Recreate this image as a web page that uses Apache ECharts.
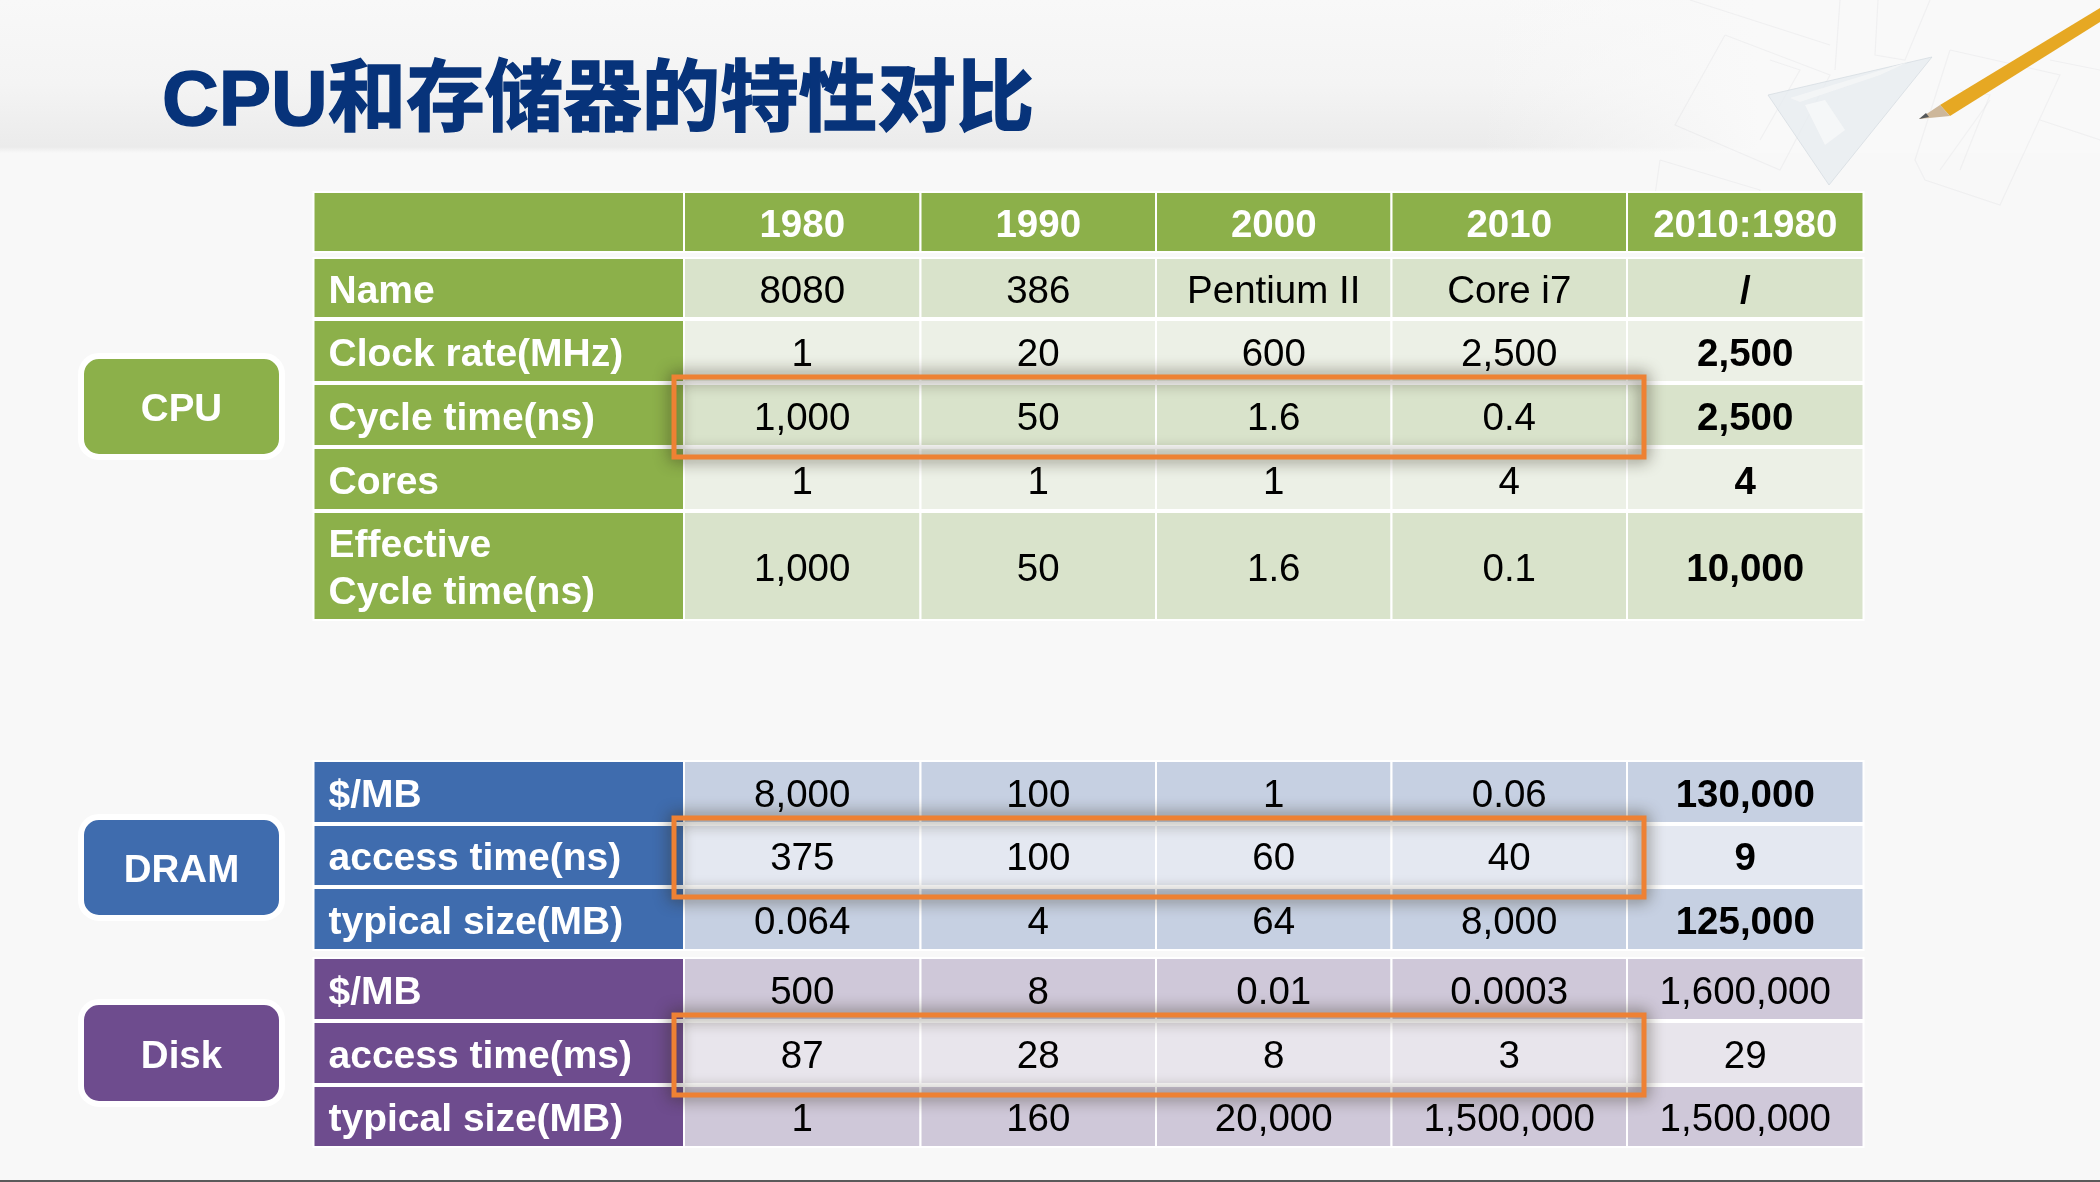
<!DOCTYPE html>
<html>
<head>
    <meta charset="utf-8">
    <script src="https://cdn.jsdelivr.net/npm/echarts@6/dist/echarts.min.js"></script>
    <style>html,body{margin:0;padding:0;background:#f8f8f8}</style>
</head>
<body>
<div id="main" style="width:2100px;height:1182px;"></div>

<script type="text/javascript">
    // table text
    var titleText = 'CPU和存储器的特性对比';
    var years = ['', '1980', '1990', '2000', '2010', '2010:1980'];

    var cpuLabels = ['', 'Name', 'Clock rate(MHz)', 'Cycle time(ns)', 'Cores', 'Effective\nCycle time(ns)'];
    var cpuName = ['8080', '386', 'Pentium II', 'Core i7', '/'];
    var cpuClock = ['1', '20', '600', '2,500', '2,500'];
    var cpuCycle = ['1,000', '50', '1.6', '0.4', '2,500'];
    var cpuCores = ['1', '1', '1', '4', '4'];
    var cpuEffective = ['1,000', '50', '1.6', '0.1', '10,000'];

    var dramLabels = ['$/MB', 'access time(ns)', 'typical size(MB)'];
    var dramPrice = ['8,000', '100', '1', '0.06', '130,000'];
    var dramAccess = ['375', '100', '60', '40', '9'];
    var dramSize = ['0.064', '4', '64', '8,000', '125,000'];

    var diskLabels = ['$/MB', 'access time(ms)', 'typical size(MB)'];
    var diskPrice = ['500', '8', '0.01', '0.0003', '1,600,000'];
    var diskAccess = ['87', '28', '8', '3', '29'];
    var diskSize = ['1', '160', '20,000', '1,500,000', '1,500,000'];

    // layout of the table, in px along the hidden axes
    var colWidths = [370.5, 236.5, 235.5, 235.5, 235.5, 236.5];
    var cpuRowHeights = [60, 60, 62, 62, 62, 108];
    var cpuRowGaps = [6, 2, 2, 2, 2, 0];
    var memRowHeights = [62, 61, 62, 62, 62, 61];
    var memRowGaps = [2, 2, 8, 2, 2, 0];

    var FONT = '"Liberation Sans", "Noto Sans CJK SC", sans-serif';
    var GREEN = '#8cb04a', BLUE = '#3f6cae', PURPLE = '#6e4c8e';

    function edges(sizes, gaps) {
        var out = [0], pos = 0;
        sizes.forEach(function (s, i) {
            pos += s + (gaps ? gaps[i] : 0);
            out.push(pos);
        });
        return out;
    }
    var colEdges = edges(colWidths);
    var cpuEdges = edges(cpuRowHeights, cpuRowGaps);
    var memEdges = edges(memRowHeights, memRowGaps);

    // rows: {label, cells, head, fill, boldLast}
    var cpuRows = [
        {label: cpuLabels[0], cells: years.slice(1), head: GREEN, fill: GREEN, color: '#fff', bold: true},
        {label: cpuLabels[1], cells: cpuName, head: GREEN, fill: '#d9e3cb', boldLast: true},
        {label: cpuLabels[2], cells: cpuClock, head: GREEN, fill: '#ecf0e6', boldLast: true},
        {label: cpuLabels[3], cells: cpuCycle, head: GREEN, fill: '#d9e3cb', boldLast: true},
        {label: cpuLabels[4], cells: cpuCores, head: GREEN, fill: '#ecf0e6', boldLast: true},
        {label: cpuLabels[5], cells: cpuEffective, head: GREEN, fill: '#d9e3cb', boldLast: true}
    ];
    var memRows = [
        {label: dramLabels[0], cells: dramPrice, head: BLUE, fill: '#c6d0e2', boldLast: true},
        {label: dramLabels[1], cells: dramAccess, head: BLUE, fill: '#e4e8f1', boldLast: true},
        {label: dramLabels[2], cells: dramSize, head: BLUE, fill: '#c6d0e2', boldLast: true},
        {label: diskLabels[0], cells: diskPrice, head: PURPLE, fill: '#cfc8d9'},
        {label: diskLabels[1], cells: diskAccess, head: PURPLE, fill: '#e8e5ec'},
        {label: diskLabels[2], cells: diskSize, head: PURPLE, fill: '#cfc8d9'}
    ];

    function cellData(rows) {
        var out = [];
        rows.forEach(function (r, ri) {
            for (var c = 0; c < 6; c++) out.push([c, ri]);
        });
        return out;
    }

    function cellRenderer(rows, rowEdges, rowHeights) {
        return function (params, api) {
            var c = api.value(0), ri = api.value(1), row = rows[ri];
            var p0 = api.coord([colEdges[c], rowEdges[ri]]);
            var p1 = api.coord([colEdges[c + 1], rowEdges[ri] + rowHeights[ri]]);
            var w = p1[0] - p0[0], h = p1[1] - p0[1];
            var isLabel = c === 0;
            var text = isLabel ? row.label : row.cells[c - 1];
            var bold = isLabel || row.bold || (row.boldLast && c === 5);
            return {
                type: 'group',
                children: [{
                    type: 'rect',
                    shape: {x: p0[0], y: p0[1], width: w, height: h},
                    style: {fill: isLabel ? row.head : row.fill, stroke: '#fff', lineWidth: 2}
                }, {
                    type: 'text',
                    style: {
                        text: text,
                        x: isLabel ? p0[0] + 15 : p0[0] + w / 2,
                        y: p0[1] + h / 2 + 4,
                        fill: (isLabel || row.color) ? '#fff' : '#000',
                        font: (bold ? '700 ' : '400 ') + (isLabel ? '39px ' : '38.5px ') + FONT,
                        textAlign: isLabel ? 'left' : 'center',
                        textVerticalAlign: 'middle',
                        lineHeight: 47
                    }
                }]
            };
        };
    }

    function boxRenderer(rowEdges, rowHeights) {
        return function (params, api) {
            var ri = api.value(0);
            var p0 = api.coord([colEdges[1], rowEdges[ri]]);
            var p1 = api.coord([colEdges[5], rowEdges[ri] + rowHeights[ri]]);
            return {
                type: 'rect',
                shape: {x: p0[0] - 10, y: p0[1] - 7, width: p1[0] - p0[0] + 27, height: p1[1] - p0[1] + 18},
                style: {
                    fill: 'none', stroke: '#ee8133', lineWidth: 5,
                    shadowBlur: 16, shadowColor: 'rgba(50,42,25,0.95)'
                }
            };
        };
    }

    function badge(x, y, w, h, color, label) {
        return {
            type: 'group', z: 3,
            children: [{
                type: 'rect',
                shape: {x: x - 3, y: y - 3, width: w + 6, height: h + 6, r: 18},
                style: {fill: color, stroke: '#fff', lineWidth: 6}
            }, {
                type: 'text',
                style: {
                    x: x + w / 2, y: y + h / 2 + 4, text: label, fill: '#fff',
                    font: '700 38.5px ' + FONT, textAlign: 'center', textVerticalAlign: 'middle'
                }
            }]
        };
    }

    function faint(points, o) {
        return {
            type: 'polyline', z: 1, shape: {points: points},
            style: {fill: 'none', stroke: '#9aa0a4', lineWidth: 1.2, opacity: o || 0.09}
        };
    }

    var backdrop = [
        // header band
        {
            type: 'rect', z: 0, shape: {x: 0, y: 0, width: 2100, height: 153},
            style: {
                fill: new echarts.graphic.LinearGradient(0, 0, 0, 1, [
                    {offset: 0, color: '#f8f8f8'}, {offset: 0.55, color: '#f4f4f4'},
                    {offset: 0.96, color: '#ebebeb'}, {offset: 1, color: '#f8f8f8'}
                ])
            }
        },
        {
            type: 'rect', z: 0, shape: {x: 1480, y: 0, width: 620, height: 153},
            style: {
                fill: new echarts.graphic.LinearGradient(0, 0, 1, 0, [
                    {offset: 0, color: 'rgba(249,249,249,0)'}, {offset: 0.45, color: 'rgba(249,249,249,1)'},
                    {offset: 1, color: 'rgba(249,249,249,1)'}
                ])
            }
        },
        // blueprint sheets
        faint([[1725, 35], [1830, 75], [1780, 170], [1675, 125], [1725, 35]]),
        faint([[1770, 60], [1800, 70], [1760, 140]]),
        faint([[1690, 0], [1830, 45]]),
        faint([[1840, 0], [1835, 70]]),
        faint([[1878, 0], [1875, 55], [1905, 60], [1930, 0]]),
        faint([[1950, 50], [2060, 75], [2000, 205], [1925, 180], [1915, 160], [1950, 50]]),
        faint([[1960, 90], [1990, 95], [1960, 170]]),
        faint([[1990, 100], [1940, 170]]),
        faint([[2050, 60], [2100, 70]]),
        faint([[2040, 120], [2100, 140]]),
        faint([[1660, 160], [1760, 190], [1740, 225], [1655, 195], [1660, 160]]),
        // set square
        {
            type: 'polygon', z: 1,
            shape: {points: [[1768, 95], [1932, 57], [1829, 185]]},
            style: {fill: '#e6ebef', stroke: '#d3dae0', lineWidth: 1, opacity: 0.7}
        },
        {
            type: 'polygon', z: 1,
            shape: {points: [[1805, 105], [1825, 145], [1845, 130], [1825, 100]]},
            style: {fill: '#f6f7f8', opacity: 0.9}
        },
        {
            type: 'polygon', z: 1,
            shape: {points: [[1790, 98], [1908, 62], [1880, 75], [1800, 102]]},
            style: {fill: '#f4f5f6', opacity: 0.9}
        },
        // pencil
        {
            type: 'polygon', z: 1,
            shape: {points: [[1940, 105], [2100, 8], [2100, 22], [1950, 116]]},
            style: {fill: '#e6a823'}
        },
        {
            type: 'polygon', z: 1,
            shape: {points: [[1940, 105], [1950, 116], [1919, 119]]},
            style: {fill: '#cdb79a'}
        },
        {
            type: 'polygon', z: 1,
            shape: {points: [[1926, 113], [1929, 117], [1919, 119]]},
            style: {fill: '#55585a'}
        },
        // bottom rule
        {type: 'rect', z: 1, shape: {x: 0, y: 1180, width: 2100, height: 2}, style: {fill: '#5a5a5a'}},
        // side labels
        badge(84, 359, 195, 95, GREEN, 'CPU'),
        badge(84, 820, 195, 95, BLUE, 'DRAM'),
        badge(84, 1005, 195, 96, PURPLE, 'Disk')
    ];

    var myChart = echarts.init(document.getElementById('main'));
    var option = {
        animation: false,
        backgroundColor: '#f8f8f8',
        title: {
            text: titleText, left: 157, top: 52,
            textStyle: {
                color: '#07337a', fontSize: 78.5, fontWeight: 700,
                fontFamily: FONT, lineHeight: 92,
                textBorderColor: '#07337a', textBorderWidth: 1.5
            }
        },
        graphic: {elements: backdrop},
        grid: [
            {left: 313.5, width: 1550, top: 192, height: 428},
            {left: 313.5, width: 1550, top: 761, height: 386}
        ],
        xAxis: [
            {type: 'value', gridIndex: 0, min: 0, max: 1550, show: false},
            {type: 'value', gridIndex: 1, min: 0, max: 1550, show: false}
        ],
        yAxis: [
            {type: 'value', gridIndex: 0, min: 0, max: 428, inverse: true, show: false},
            {type: 'value', gridIndex: 1, min: 0, max: 386, inverse: true, show: false}
        ],
        series: [
            {
                type: 'custom', xAxisIndex: 0, yAxisIndex: 0, silent: true, clip: false,
                renderItem: cellRenderer(cpuRows, cpuEdges, cpuRowHeights),
                data: cellData(cpuRows)
            },
            {
                type: 'custom', xAxisIndex: 1, yAxisIndex: 1, silent: true, clip: false,
                renderItem: cellRenderer(memRows, memEdges, memRowHeights),
                data: cellData(memRows)
            },
            {
                type: 'custom', xAxisIndex: 0, yAxisIndex: 0, silent: true, clip: false, z: 5,
                renderItem: boxRenderer(cpuEdges, cpuRowHeights),
                encode: {x: -1, y: 0},
                data: [[3]]
            },
            {
                type: 'custom', xAxisIndex: 1, yAxisIndex: 1, silent: true, clip: false, z: 5,
                renderItem: boxRenderer(memEdges, memRowHeights),
                encode: {x: -1, y: 0},
                data: [[1], [4]]
            }
        ]
    };
    myChart.setOption(option);
</script>
</body>
</html>
